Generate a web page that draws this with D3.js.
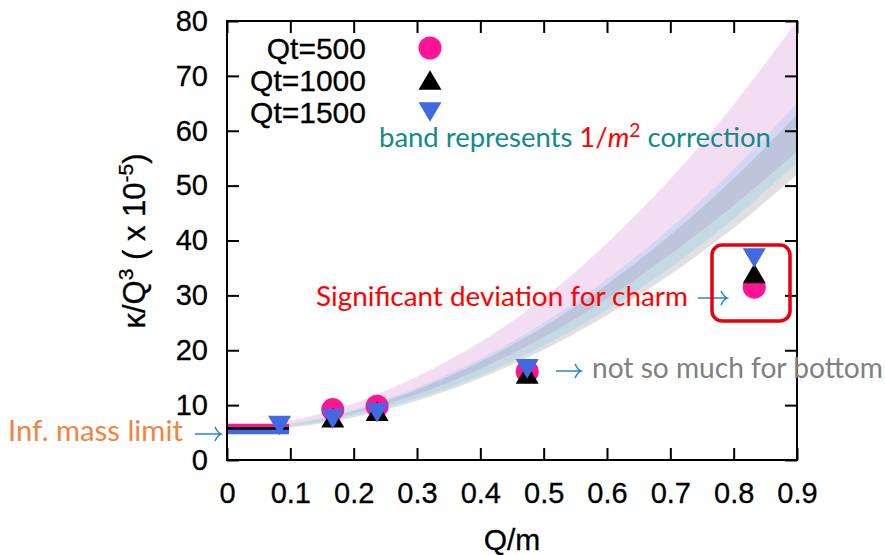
<!DOCTYPE html>
<html>
<head>
<meta charset="utf-8">
<script src="https://cdn.jsdelivr.net/npm/d3@7/dist/d3.min.js"></script>
<style>
body{margin:0;background:#fff}
svg{display:block}
</style>
</head>
<body>
<div class="chart"></div>
<script>
// series: Qt=500, Qt=1000, Qt=1500
var qtLabels=['Qt=500','Qt=1000','Qt=1500']
var qtColors=['#ff1493','#000000','#4169e1']
var qtShapes=['circle','up','down']

var q500=[[0.167,9.2],[0.237,9.8],[0.474,16.1],[0.8325,31.5]]
var q1000=[[0.167,7.7],[0.237,8.9],[0.474,15.7],[0.8325,34.0]]
var q1500=[[0.083,6.3],[0.167,7.5],[0.237,8.6],[0.474,16.6],[0.8325,36.8]]

// infinite mass limit, one short line per Qt
var infMass=[6.2,5.6,5.1]
var infMassRange=[0,0.098]

// 1/m^2 correction bands, read at these Q/m values
var bandQ=[0,0.1,0.2,0.3,0.4,0.5,0.6,0.7,0.8,0.9]
var pinkHi=[5.8,7.2,10.3,15.2,21.5,29.5,39.5,51.2,64.8,80]
var pinkLo=[5.6,6.4,8.6,12.0,16.6,22.4,29.4,37.5,46.4,56.2]
var grayHi=[5.5,6.4,8.9,12.8,17.9,24.3,32.0,41.0,51.3,62.9]
var grayLo=[5.3,5.9,7.8,10.8,14.9,20.1,26.4,33.8,42.3,52.0]
var blueHi=[5.6,6.6,9.2,13.2,18.4,25.0,33.0,42.3,53.0,65.0]
var blueLo=[5.4,6.1,8.1,11.2,15.4,20.8,27.4,35.1,44.0,54.2]

var xTicks=[0,0.1,0.2,0.3,0.4,0.5,0.6,0.7,0.8,0.9]
var yTicks=[0,10,20,30,40,50,60,70,80]

var W=885, H=555
var plotL=227, plotR=797, plotT=21, plotB=460
var axisFont='"Liberation Sans", Arial, Helvetica, sans-serif'
var noteFont='Lato, "Open Sans", sans-serif'

var svg=d3.select('.chart').append('svg')
  .attr('width',W)
  .attr('height',H)

var x=d3.scaleLinear().domain([0,0.9]).range([plotL,plotR])
var y=d3.scaleLinear().domain([0,80]).range([plotB,plotT])

svg.append('clipPath').attr('id','plot')
  .append('rect')
  .attr('x',plotL).attr('y',plotT)
  .attr('width',plotR-plotL).attr('height',plotB-plotT)

// bands
var bands=[
  {hi:pinkHi, lo:pinkLo, fill:'rgba(200,100,200,0.22)'},
  {hi:grayHi, lo:grayLo, fill:'rgba(0,0,0,0.12)'},
  {hi:blueHi, lo:blueLo, fill:'rgba(130,200,240,0.28)'}
]
var area=d3.area()
  .x(function(d){ return x(d.q) })
  .y0(function(d){ return y(d.lo) })
  .y1(function(d){ return y(d.hi) })
  .curve(d3.curveMonotoneX)

svg.append('g').attr('clip-path','url(#plot)')
  .selectAll('path')
  .data(bands)
  .enter()
  .append('path')
  .attr('fill',function(d){ return d.fill })
  .attr('d',function(b){
    return area(bandQ.map(function(q,i){ return {q:q, hi:b.hi[i], lo:b.lo[i]} }))
  })

// infinite mass lines
svg.append('g').selectAll('line')
  .data(infMass)
  .enter()
  .append('line')
  .attr('x1',x(infMassRange[0]))
  .attr('x2',x(infMassRange[1]))
  .attr('y1',function(d){ return y(d) })
  .attr('y2',function(d){ return y(d) })
  .attr('stroke',function(d,i){ return qtColors[i] })
  .attr('stroke-width',4.5)

function symbolPath(shape) {
  if(shape==='circle') return d3.symbol().type(d3.symbolCircle).size(Math.PI*11.5*11.5)()
  var w=11.5, h=9.8
  if(shape==='up') return 'M0,'+(-h)+'L'+w+','+h+'L'+(-w)+','+h+'Z'
  return 'M0,'+h+'L'+w+','+(-h)+'L'+(-w)+','+(-h)+'Z'
}

// points
var series=[q500,q1000,q1500]
series.forEach(function(s,i){
  svg.append('g').selectAll('path')
    .data(s)
    .enter()
    .append('path')
    .attr('d',symbolPath(qtShapes[i]))
    .attr('fill',qtColors[i])
    .attr('transform',function(d){ return 'translate('+x(d[0])+','+y(d[1])+')' })
})

// axes, gnuplot style: ticks inside and mirrored
function styleAxis(g) {
  g.select('.domain').remove()
  g.selectAll('.tick line').attr('stroke','#000').attr('stroke-width',2)
  g.selectAll('.tick text')
    .attr('fill','#000')
    .attr('stroke','#000')
    .attr('stroke-width',0.3)
    .style('font-family',axisFont)
    .style('font-size','29px')
}

svg.append('g')
  .attr('transform','translate(0,'+plotB+')')
  .call(d3.axisBottom(x).tickValues(xTicks).tickFormat(d3.format('')).tickSize(-12).tickPadding(22))
  .call(styleAxis)
svg.append('g')
  .attr('transform','translate(0,'+plotT+')')
  .call(d3.axisTop(x).tickValues(xTicks).tickFormat('').tickSize(-12))
  .call(styleAxis)
svg.append('g')
  .attr('transform','translate('+plotL+',0)')
  .call(d3.axisLeft(y).tickValues(yTicks).tickSize(-12).tickPadding(19))
  .call(styleAxis)
svg.append('g')
  .attr('transform','translate('+plotR+',0)')
  .call(d3.axisRight(y).tickValues(yTicks).tickFormat('').tickSize(-12))
  .call(styleAxis)

svg.append('rect')
  .attr('x',plotL).attr('y',plotT)
  .attr('width',plotR-plotL).attr('height',plotB-plotT)
  .attr('fill','none')
  .attr('stroke','#000')
  .attr('stroke-width',2)

// axis titles
svg.append('text')
  .attr('x',(plotL+plotR)/2)
  .attr('y',550)
  .attr('text-anchor','middle')
  .attr('stroke','#000')
  .attr('stroke-width',0.3)
  .style('font-family',axisFont)
  .style('font-size','30px')
  .text('Q/m')

var ylab=svg.append('text')
  .attr('transform','translate(145,241) rotate(-90)')
  .attr('text-anchor','middle')
  .attr('stroke','#000')
  .attr('stroke-width',0.3)
  .style('font-family',axisFont)
  .style('font-size','31px')
ylab.append('tspan').text('κ/Q')
ylab.append('tspan').attr('dy',-12).style('font-size','21px').text('3')
ylab.append('tspan').attr('dy',12).text(' ( x 10')
ylab.append('tspan').attr('dy',-12).style('font-size','21px').text('-5')
ylab.append('tspan').attr('dy',12).text(')')

// legend
var legendY=[48,80,112]
qtLabels.forEach(function(l,i){
  svg.append('text')
    .attr('x',366)
    .attr('y',legendY[i]+11)
    .attr('text-anchor','end')
    .attr('stroke','#000')
    .attr('stroke-width',0.3)
    .style('font-family',axisFont)
    .style('font-size','30px')
    .text(l)
  svg.append('path')
    .attr('d',symbolPath(qtShapes[i]))
    .attr('fill',qtColors[i])
    .attr('transform','translate(430,'+legendY[i]+')')
})

// annotations
function fit(t,width) {
  var w=t.node().getComputedTextLength()
  t.style('font-size',(25*width/w)+'px')
}
function note(x0,yb,width,color) {
  var t=svg.append('text')
    .attr('x',x0).attr('y',yb)
    .attr('fill',color)
    .style('font-family',noteFont)
    .style('font-size','25px')
  t.fit=function(){ fit(t,width); return t }
  return t
}
function arrow(x1,x2,yy) {
  svg.append('path')
    .attr('d','M'+x1+','+yy+'H'+x2+
      'M'+(x2-6)+','+(yy-7)+'Q'+(x2-3)+','+(yy-1)+' '+x2+','+yy+
      'Q'+(x2-3)+','+(yy+1)+' '+(x2-6)+','+(yy+7))
    .attr('fill','none')
    .attr('stroke','#2b86cc')
    .attr('stroke-width',1.6)
}

var band=note(379,147,392,'#118a8a')
band.append('tspan').text('band represents ')
band.append('tspan').attr('fill','#ff0000').text('1/')
band.append('tspan').attr('fill','#ff0000').style('font-style','italic').text('m')
band.append('tspan').attr('fill','#ff0000').attr('dy',-10).style('font-size','0.7em').text('2')
band.append('tspan').attr('dy',10).text(' correction')
band.fit()

note(316,306,372,'#ff0000').text('Significant deviation for charm').fit()
arrow(698,727,298)

svg.append('rect')
  .attr('x',712).attr('y',245)
  .attr('width',78).attr('height',76)
  .attr('rx',10)
  .attr('fill','none')
  .attr('stroke','#e8000b')
  .attr('stroke-width',3.5)

arrow(556,581,371)
note(592,378,291,'#808080').text('not so much for bottom').fit()

note(8,441,175,'#f08440').text('Inf. mass limit').fit()
arrow(195,221,434)
</script>
</body>
</html>
